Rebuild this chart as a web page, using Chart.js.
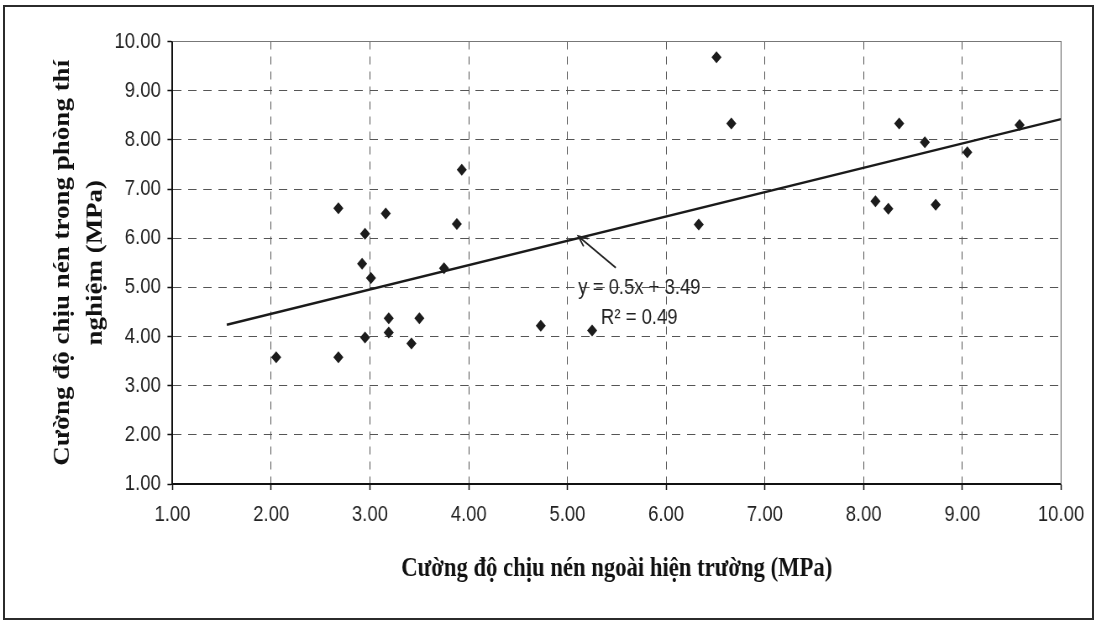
<!DOCTYPE html>
<html>
<head>
<meta charset="utf-8">
<script src="https://cdn.jsdelivr.net/npm/chart.js@4.4.1/dist/chart.umd.min.js"></script>
<style>
  html, body { margin: 0; padding: 0; background: #fff; }
  #wrap { position: relative; width: 1096px; height: 622px; overflow: hidden; }
  #chart { position: absolute; left: 0; top: 0; }
  #frame { position: absolute; left: 3px; top: 5px; width: 1087px; height: 611px; border: 2px solid #2b2b2b; }
</style>
</head>
<body>
<div id="wrap">
  <!-- the scanned figure is squeezed sideways, so the canvas is drawn wider and shrunk -->
  <canvas id="chart" width="1305" height="622" style="width:1096px;height:622px"></canvas>
  <div id="frame"></div>
</div>
<script>
// field strength (x) vs lab strength (y), MPa
const fieldX = [2.05, 2.68, 2.68, 2.95, 2.92, 3.01, 2.95, 3.16, 3.19, 3.19, 3.50, 3.42, 3.75, 3.88,
                3.93, 4.73, 5.25, 6.33, 6.51, 6.66, 8.12, 8.25, 8.36, 8.62, 8.73, 9.05, 9.58];
const labY   = [3.58, 3.58, 6.61, 6.09, 5.48, 5.19, 3.98, 6.50, 4.37, 4.08, 4.37, 3.86, 5.39, 6.29,
                7.39, 4.22, 4.12, 6.28, 9.68, 8.33, 6.75, 6.60, 8.33, 7.95, 6.68, 7.75, 8.30];

// trend line ends as drawn
const trendX = [1.55, 10.00];
const trendY = [4.24, 8.42];

const axisMin = 1;
const axisMax = 10;

const xTitle = "Cường độ chịu nén ngoài hiện trường (MPa)";
const yTitle = ["Cường độ chịu nén trong phòng thí", "nghiệm (MPa)"];
const eqText = "y = 0.5x + 3.49";
const r2Text = "R² = 0.49";

const points = fieldX.map((x, i) => ({x: x, y: labY[i]}));
const trend = trendX.map((x, i) => ({x: x, y: trendY[i]}));

const tickFont = {family: "'Liberation Sans', Arial, sans-serif", size: 22};
const titleFont = {family: "'Liberation Serif', 'Times New Roman', serif", size: 27, weight: 'bold'};

// grey box round the plot area + regression label with its arrow
const extras = {
    id: 'extras',
    afterDraw(chart) {
        const {ctx, chartArea, scales} = chart;
        const xs = scales.x, ys = scales.y;
        ctx.save();
        ctx.strokeStyle = '#777';
        ctx.lineWidth = 1.2;
        ctx.beginPath();
        ctx.moveTo(chartArea.left, chartArea.top);
        ctx.lineTo(chartArea.right, chartArea.top);
        ctx.lineTo(chartArea.right, chartArea.bottom);
        ctx.stroke();

        // arrow
        const tx = xs.getPixelForValue(5.11), ty = ys.getPixelForValue(6.04);
        const sx = xs.getPixelForValue(5.49), sy = ys.getPixelForValue(5.40);
        const ang = Math.atan2(ty - sy, tx - sx);
        ctx.strokeStyle = '#222';
        ctx.lineWidth = 1.8;
        ctx.beginPath();
        ctx.moveTo(sx, sy);
        ctx.lineTo(tx, ty);
        ctx.moveTo(tx - 12 * Math.cos(ang - 0.4), ty - 12 * Math.sin(ang - 0.4));
        ctx.lineTo(tx, ty);
        ctx.lineTo(tx - 12 * Math.cos(ang + 0.4), ty - 12 * Math.sin(ang + 0.4));
        ctx.stroke();

        ctx.fillStyle = '#222';
        ctx.font = "22px 'Liberation Sans', Arial, sans-serif";
        ctx.textAlign = 'left';
        ctx.textBaseline = 'middle';
        ctx.fillText(eqText, xs.getPixelForValue(5.11), ys.getPixelForValue(4.99));
        ctx.fillText(r2Text, xs.getPixelForValue(5.34), ys.getPixelForValue(4.37));
        ctx.restore();
    }
};

new Chart(document.getElementById('chart'), {
    type: 'scatter',
    data: {
        datasets: [
            {
                label: 'data',
                data: points,
                pointStyle: 'rectRot',
                pointRadius: 6,
                backgroundColor: '#1c1c1c',
                borderColor: '#1c1c1c',
                borderWidth: 0
            },
            {
                label: 'trend',
                data: trend,
                showLine: true,
                pointRadius: 0,
                borderColor: '#1a1a1a',
                borderWidth: 2.4
            }
        ]
    },
    options: {
        responsive: false,
        animation: false,
        devicePixelRatio: 1,
        layout: {padding: {top: 41.5, right: 41.6, left: 0, bottom: 0}},
        plugins: {legend: {display: false}, tooltip: {enabled: false}},
        scales: {
            x: {
                type: 'linear',
                min: axisMin,
                max: axisMax,
                afterFit: s => { s.height = 138; },
                border: {display: true, color: '#111', width: 2, dash: [8, 7]},
                grid: {color: '#555', lineWidth: 1, drawTicks: true,
                       tickLength: 6, tickColor: '#111', tickWidth: 1.5, tickBorderDash: []},
                ticks: {stepSize: 1, color: '#222', font: tickFont, padding: 12,
                        maxRotation: 0, callback: v => v.toFixed(2)},
                title: {display: true, text: xTitle, color: '#111', font: titleFont,
                        padding: {top: 0, bottom: 37}}
            },
            y: {
                type: 'linear',
                min: axisMin,
                max: axisMax,
                afterFit: s => { s.width = 205.4; },
                border: {display: true, color: '#111', width: 2, dash: [10, 8]},
                grid: {color: '#555', lineWidth: 1, drawTicks: true,
                       tickLength: 6, tickColor: '#111', tickWidth: 1.5, tickBorderDash: []},
                ticks: {stepSize: 1, color: '#222', font: tickFont, padding: 8,
                        callback: v => v.toFixed(2)},
                title: {display: true, text: yTitle, color: '#111',
                        font: Object.assign({lineHeight: 1.45}, titleFont),
                        padding: {top: 55.5, bottom: 0}}
            }
        }
    },
    plugins: [extras]
});
</script>
</body>
</html>
